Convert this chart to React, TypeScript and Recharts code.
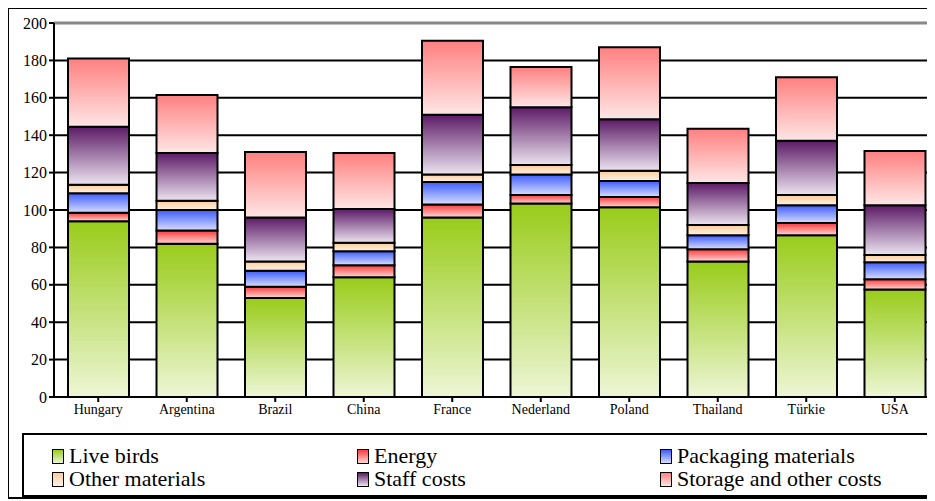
import { BarChart, Bar, XAxis, YAxis, CartesianGrid, ReferenceLine } from 'recharts';

const categories = ['Hungary', 'Argentina', 'Brazil', 'China', 'France', 'Nederland', 'Poland', 'Thailand', 'Türkie', 'USA'];
const liveBirds = [94, 82, 53, 64, 96, 103.5, 101.5, 72.5, 86.5, 57.5];
const energy = [4.5, 7, 6, 6.5, 7, 4.5, 5.5, 6.5, 6.5, 5.5];
const packaging = [10.5, 11, 8.5, 7.5, 12, 11, 8.5, 7.5, 9.5, 9];
const otherMaterials = [4.5, 5, 5, 4.5, 4, 5, 5.5, 5.5, 5.5, 4];
const staffCosts = [31, 25.5, 23.5, 18, 32, 31, 27.5, 22.5, 29, 26.5];
const storageCosts = [36.5, 31, 35, 30, 39.5, 21.5, 38.5, 29, 34, 29];
const yTicks = [0, 20, 40, 60, 80, 100, 120, 140, 160, 180, 200];

const series = [
  { key: 'live', name: 'Live birds', values: liveBirds, top: '#99cc1a', bottom: '#eef6d6' },
  { key: 'energy', name: 'Energy', values: energy, top: '#ff3b3b', bottom: '#ffd6d6' },
  { key: 'pack', name: 'Packaging materials', values: packaging, top: '#3d5cff', bottom: '#d8deff' },
  { key: 'other', name: 'Other materials', values: otherMaterials, top: '#ffcc99', bottom: '#fff2e6' },
  { key: 'staff', name: 'Staff costs', values: staffCosts, top: '#5c1a66', bottom: '#ece4f0' },
  { key: 'storage', name: 'Storage and other costs', values: storageCosts, top: '#ff8080', bottom: '#ffe6e6' },
];

const data = categories.map((c, i) => {
  const row: Record<string, string | number> = { name: c };
  series.forEach((s) => (row[s.key] = s.values[i]));
  return row;
});

const font = '"Liberation Serif", "Times New Roman", serif';

const legendPos = [
  [28, 10], [333, 10], [636, 10],
  [28, 33], [333, 33], [636, 33],
];

export default function App() {
  return (
    <div
      style={{
        position: 'relative',
        width: 935,
        height: 488,
        marginLeft: -1,
        marginTop: -1,
        border: '2px solid #000',
        borderRight: 'none',
        background: '#fff',
        fontFamily: font,
        overflow: 'hidden',
      }}
    >
      <style>{'html,body{overflow:hidden}'}</style>
      <BarChart width={934} height={430} data={data} margin={{ top: 14, right: 4, bottom: 12, left: 0 }}>
        <defs>
          {series.map((s) => (
            <linearGradient key={s.key} id={'g-' + s.key} x1="0" y1="0" x2="0" y2="1">
              <stop offset="0%" stopColor={s.top} />
              <stop offset="100%" stopColor={s.bottom} />
            </linearGradient>
          ))}
        </defs>
        <CartesianGrid vertical={false} stroke="#000" strokeWidth={2} />
        <ReferenceLine y={200} stroke="#888" strokeWidth={3} />
        <XAxis
          dataKey="name"
          height={30}
          stroke="#000"
          strokeWidth={2}
          tickSize={5}
          tick={{ fill: '#000', fontSize: 14, fontFamily: font }}
          interval={0}
        />
        <YAxis
          width={45}
          domain={[0, 200]}
          ticks={yTicks}
          stroke="#000"
          strokeWidth={2}
          tickSize={5}
          tick={{ fill: '#000', fontSize: 16, fontFamily: font }}
        />
        {series.map((s) => (
          <Bar
            key={s.key}
            dataKey={s.key}
            name={s.name}
            stackId="a"
            barSize={61}
            fill={`url(#g-${s.key})`}
            stroke="#000"
            strokeWidth={2}
            isAnimationActive={false}
          />
        ))}
      </BarChart>
      <div
        style={{
          position: 'absolute',
          left: 13,
          top: 424,
          width: 935,
          height: 60,
          border: '2px solid #000',
          boxShadow: '2px 2px 0 #888',
        }}
      >
        {series.map((s, i) => (
          <div
            key={s.key}
            style={{
              position: 'absolute',
              left: legendPos[i][0],
              top: legendPos[i][1],
              display: 'flex',
              alignItems: 'center',
              fontSize: 22,
              lineHeight: '22px',
              color: '#000',
              whiteSpace: 'nowrap',
            }}
          >
            <span
              style={{
                display: 'inline-block',
                width: 10,
                height: 13,
                border: '1.5px solid #000',
                background: `linear-gradient(${s.top}, ${s.bottom})`,
                marginRight: 5,
              }}
            />
            {s.name}
          </div>
        ))}
      </div>
    </div>
  );
}
